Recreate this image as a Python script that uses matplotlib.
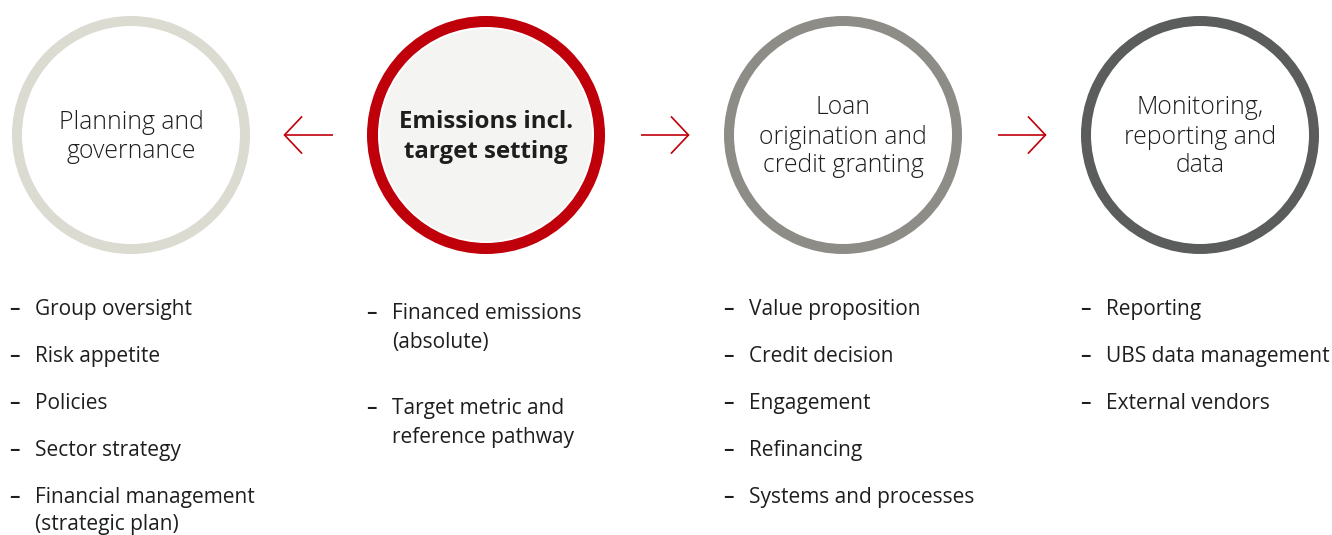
import matplotlib
matplotlib.use("Agg")
import matplotlib.pyplot as plt
from matplotlib.patches import Circle, Annulus

plt.rcParams['font.family'] = ['Open Sans', 'DejaVu Sans']

titles = ["Planning and\ngovernance",
          "Emissions incl.\ntarget setting",
          "Loan\norigination and\ncredit granting",
          "Monitoring,\nreporting and\ndata"]
ring_colors = ["#dbdbd2", "#bf000b", "#8e8c86", "#5b5d5c"]
bold = [False, True, False, False]

bullets = [
    ["Group oversight", "Risk appetite", "Policies", "Sector strategy",
     "Financial management\n(strategic plan)"],
    ["Financed emissions\n(absolute)", "Target metric and\nreference pathway"],
    ["Value proposition", "Credit decision", "Engagement", "Refinancing",
     "Systems and processes"],
    ["Reporting", "UBS data management", "External vendors"],
]
# arrow directions between circles: -1 points left, +1 points right
arrow_dirs = [-1, 1, 1]

W, H = 1332, 535
fig = plt.figure(figsize=(W / 100, H / 100), dpi=100)
ax = fig.add_axes([0, 0, 1, 1])
ax.set_xlim(0, W)
ax.set_ylim(H, 0)
ax.axis('off')

red = "#bf000b"
txt = "#1e1e1e"
cxs = [131, 486, 843, 1200]
cy = 135
R = 119

for i, cx in enumerate(cxs):
    if bold[i]:
        ax.add_patch(Annulus((cx, cy), R, 11, color=ring_colors[i], lw=0))
        ax.add_patch(Circle((cx, cy), R - 13, color="#f4f4f2", lw=0))
    else:
        ax.add_patch(Annulus((cx, cy), R, 10, color=ring_colors[i], lw=0))
    lines = titles[i].split("\n")
    top = cy + 2 - (len(lines) - 1) * 29 / 2
    for j, ln in enumerate(lines):
        ax.text(cx, top + j * 29, ln, ha='center', va='center',
                fontsize=17.3 if bold[i] else 17.8,
                color=txt, fontweight='bold' if bold[i] else 'light')

# arrows
for k, d in enumerate(arrow_dirs):
    mid = (cxs[k] + cxs[k + 1]) / 2
    x0, x1 = mid - 24, mid + 24
    tip = x0 if d < 0 else x1
    ax.plot([x0, x1], [cy, cy], color=red, lw=1.2, solid_capstyle='butt')
    ax.plot([tip - d * 17, tip, tip - d * 17], [cy - 18, cy, cy + 18],
            color=red, lw=1.2, solid_joinstyle='miter')

# bullet lists
col_x = [cxs[0] - 121, cxs[1] - 119, cxs[2] - 119, cxs[3] - 119]
starts = [307, 311, 307, 307]
for i, items in enumerate(bullets):
    y = starts[i]
    gap = 29 if i == 1 else 27
    for item in items:
        ax.text(col_x[i] - 1, y + 8, "\u2013", ha='left', va='baseline',
                fontsize=15, fontweight='semibold', color=txt)
        lines = item.split("\n")
        for j, ln in enumerate(lines):
            ax.text(col_x[i] + 25, y + 8 + j * gap, ln, ha='left',
                    va='baseline', fontsize=15, color=txt)
        y += 47 + (len(lines) - 1) * (48 if i == 1 else 28)

fig.savefig("out.png", dpi=100, facecolor='white')
